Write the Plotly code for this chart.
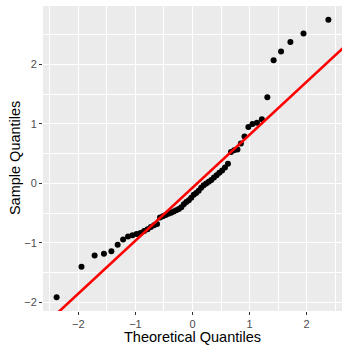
from statistics import NormalDist
import plotly.graph_objects as go

# sorted sample values (58 points)
sample = [
    -1.91, -1.40, -1.21, -1.18, -1.14, -1.03, -0.94, -0.89, -0.87, -0.85,
    -0.83, -0.80, -0.77, -0.73, -0.70, -0.68, -0.57, -0.55, -0.53, -0.51,
    -0.49, -0.47, -0.45, -0.43, -0.40, -0.35, -0.31, -0.28, -0.24, -0.19,
    -0.16, -0.12, -0.07, -0.03, 0.00, 0.03, 0.06, 0.10, 0.14, 0.18,
    0.22, 0.27, 0.33, 0.53, 0.56, 0.57, 0.67, 0.79, 0.95, 1.00,
    1.02, 1.08, 1.45, 2.07, 2.22, 2.38, 2.52, 2.75,
]
line_slope = 0.89
line_intercept = -0.07
x_ticks = [-2, -1, 0, 1, 2]
y_ticks = [-2, -1, 0, 1, 2]

# theoretical quantiles, like R's ppoints + qnorm
n = len(sample)
theo = [NormalDist().inv_cdf((i + 0.5) / n) for i in range(n)]

FONT = "Liberation Sans, Arial, sans-serif"

fig = go.Figure()
line_x = [-3, 3]
fig.add_trace(go.Scatter(
    x=theo, y=sample, mode="markers",
    marker=dict(color="black", size=6),
    showlegend=False,
))
fig.add_trace(go.Scatter(
    x=line_x, y=[line_intercept + line_slope * v for v in line_x],
    mode="lines", line=dict(color="#FF0000", width=2.6),
    showlegend=False,
))

axis_common = dict(
    showline=False, zeroline=False, automargin=False,
    showgrid=True, gridcolor="white", gridwidth=1.1,
    ticks="outside", ticklen=3, tickwidth=1, tickcolor="#333333",
    tickfont=dict(family=FONT, size=11, color="#4D4D4D"),
    minor=dict(showgrid=True, gridcolor="white", gridwidth=0.5, dtick=0.5, tick0=0.5),
)

fig.update_xaxes(range=[-2.62, 2.62], tickvals=x_ticks, **axis_common)
fig.update_yaxes(range=[-2.143, 2.983], tickvals=y_ticks, **axis_common)

# axis titles as annotations so they sit where ggplot puts them
title_font = dict(family=FONT, size=14.5, color="black")
fig.add_annotation(text="Theoretical Quantiles", xref="paper", yref="paper",
                   x=0.5, y=-0.086, xanchor="center", yanchor="middle",
                   showarrow=False, font=title_font)
fig.add_annotation(text="Sample Quantiles", xref="paper", yref="paper",
                   x=-0.095, y=0.5, xanchor="center", yanchor="middle",
                   textangle=-90, showarrow=False, font=title_font)

fig.update_layout(
    width=349, height=349,
    margin=dict(l=43, r=7, t=6, b=38),
    plot_bgcolor="#EBEBEB", paper_bgcolor="white",
    font=dict(family=FONT),
)

# drop the browser's default body margin so the figure sits at the top-left corner
fig.write_html("out.html", config={"displayModeBar": False},
               post_script="document.body.style.margin='0';")
